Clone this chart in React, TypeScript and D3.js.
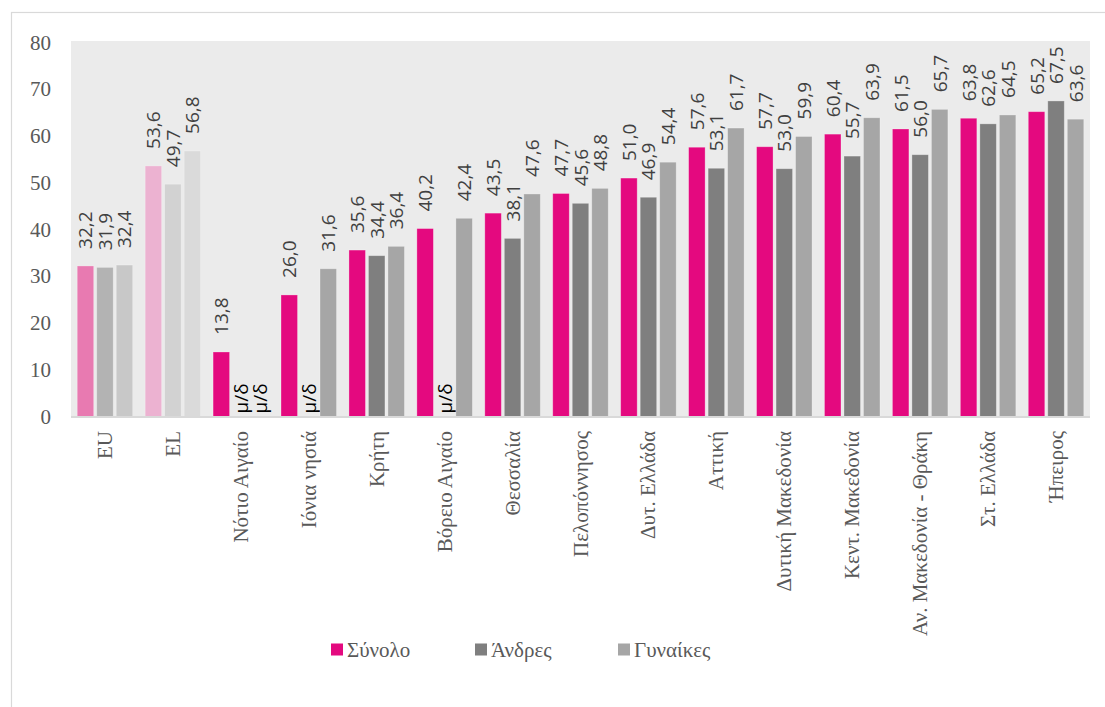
import React from 'react';
import * as d3 from 'd3';

const categories = ['EU', 'EL', 'Νότιο Αιγαίο', 'Ιόνια νησιά', 'Κρήτη', 'Βόρειο Αιγαίο', 'Θεσσαλία', 'Πελοπόννησος', 'Δυτ. Ελλάδα', 'Αττική', 'Δυτική Μακεδονία', 'Κεντ. Μακεδονία', 'Αν. Μακεδονία - Θράκη', 'Στ. Ελλάδα', 'Ήπειρος'];
const total: (number | null)[] = [32.2, 53.6, 13.8, 26.0, 35.6, 40.2, 43.5, 47.7, 51.0, 57.6, 57.7, 60.4, 61.5, 63.8, 65.2];
const men: (number | null)[] = [31.9, 49.7, null, null, 34.4, null, 38.1, 45.6, 46.9, 53.1, 53.0, 55.7, 56.0, 62.6, 67.5];
const women: (number | null)[] = [32.4, 56.8, null, 31.6, 36.4, 42.4, 47.6, 48.8, 54.4, 61.7, 59.9, 63.9, 65.7, 64.5, 63.6];
const seriesNames = ['Σύνολο', 'Άνδρες', 'Γυναίκες'];
const yTicks = [0, 10, 20, 30, 40, 50, 60, 70, 80];
const naLabel = 'μ/δ';

const baseColors = ['#e4097f', '#7f7f7f', '#a6a6a6'];
const euColors = ['#e87ab1', '#b3b3b3', '#c8c8c8'];
const elColors = ['#ecb2d1', '#d2d2d2', '#dadada'];

const W = 1105, H = 707;
const plot = { left: 71, right: 1090, top: 41, bottom: 416.5 };

export default function App() {
  const x = d3.scaleBand<string>().domain(categories).range([plot.left, plot.right]).paddingInner(0).paddingOuter(0);
  const y = d3.scaleLinear().domain([0, 80]).range([plot.bottom, 42.5]);
  const series = [total, men, women];
  const barW = 16.5, step = 19.5;
  const fmt = (v: number) => d3.format('.1f')(v).replace('.', ',');
  const serif = '"Liberation Serif", "DejaVu Serif", serif';
  const sans = '"Open Sans", "Liberation Sans", sans-serif';

  const colorFor = (ci: number, si: number) => ci === 0 ? euColors[si] : ci === 1 ? elColors[si] : baseColors[si];

  const legendX = [331, 475, 618];

  return (
    <svg width={W} height={H} style={{ position: 'absolute', left: 0, top: 0, display: 'block' }}>
      <rect x={0} y={0} width={W} height={H} fill="#ffffff" />
      <rect x={11.5} y={12.5} width={W} height={H} fill="none" stroke="#d9d9d9" strokeWidth={1.2} />
      <rect x={plot.left} y={plot.top} width={plot.right - plot.left} height={plot.bottom - plot.top} fill="#ebebeb" />
      {yTicks.map(t => (
        <text key={t} x={51} y={y(t)} textAnchor="end" dominantBaseline="central" fontFamily={serif} fontSize={21} fill="#595959">{t}</text>
      ))}
      {categories.map((c, ci) => {
        const cx = (x(c) as number) + x.bandwidth() / 2;
        return (
          <g key={c}>
            {series.map((s, si) => {
              const v = s[ci];
              const bx = cx + (si - 1) * step - barW / 2;
              const bc = bx + barW / 2;
              if (v === null) {
                return (
                  <text key={si} transform={`translate(${bc},${plot.bottom - 3}) rotate(-90)`} textAnchor="start" dominantBaseline="central" fontFamily={sans} fontSize={19} fill="#000000">{naLabel}</text>
                );
              }
              return (
                <g key={si}>
                  <rect x={bx} y={y(v)} width={barW} height={plot.bottom - y(v)} fill={colorFor(ci, si)} stroke="#ffffff" strokeOpacity={0.35} strokeWidth={0.8} />
                  <text transform={`translate(${bc},${y(v) - 17}) rotate(-90)`} textAnchor="start" dominantBaseline="central" fontFamily={sans} fontSize={19} fill="#404040">{fmt(v)}</text>
                </g>
              );
            })}
            <text transform={`translate(${cx},${431}) rotate(-90)`} textAnchor="end" dominantBaseline="central" fontFamily={serif} fontSize={21} fill="#595959">{c}</text>
          </g>
        );
      })}
      <line x1={plot.left} x2={plot.right} y1={plot.bottom + 0.5} y2={plot.bottom + 0.5} stroke="#d9d9d9" strokeWidth={1.8} />
      {seriesNames.map((n, i) => (
        <g key={n}>
          <rect x={legendX[i]} y={643.5} width={12} height={12} fill={baseColors[i]} />
          <text x={legendX[i] + 16} y={650} dominantBaseline="central" fontFamily={serif} fontSize={21} fill="#595959">{n}</text>
        </g>
      ))}
    </svg>
  );
}
